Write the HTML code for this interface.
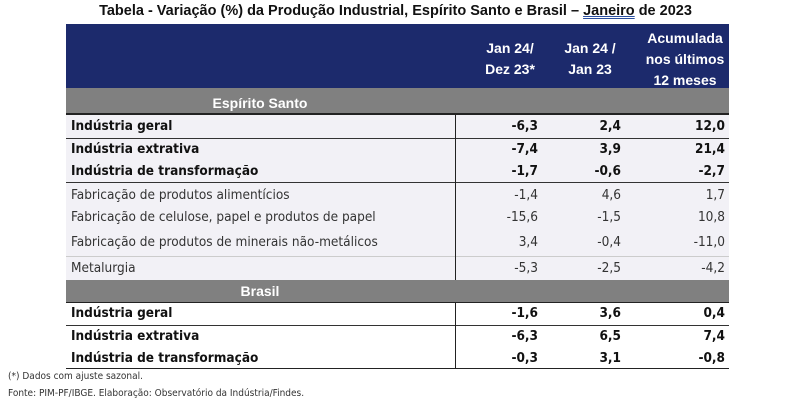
<!DOCTYPE html>
<html><head><meta charset="utf-8"><style>
body{margin:0;width:791px;height:404px;background:#fff;position:relative;overflow:hidden;font-family:"Liberation Sans Narrow","Liberation Sans",sans-serif;color:#111}
div{position:absolute;white-space:nowrap}
.t{top:3px;left:0;width:791px;text-align:center;font-weight:bold;font-size:14.5px}
.b{font-weight:bold;font-family:"DejaVu Sans Condensed","Liberation Sans Narrow",sans-serif;font-size:13.5px}
.n{font-family:"DejaVu Sans Condensed","Liberation Sans Narrow",sans-serif;font-size:13.5px;color:#333}
.v{text-align:right;width:60px}
.h{color:#fff;font-weight:bold;font-size:14px;text-align:center;line-height:21px}
</style></head><body>
<div class="t">Tabela - Variação (%) da Produção Industrial, Espírito Santo e Brasil – <span style="text-decoration:underline double #2a4fa0">Janeiro</span> de 2023</div>
<div style="left:66px;top:24px;width:663px;height:64px;background:#1c2a6c"></div>
<div class="h" style="left:470px;top:38px;width:80px">Jan 24/<br>Dez 23*</div>
<div class="h" style="left:550px;top:38px;width:80px">Jan 24 /<br>Jan 23</div>
<div class="h" style="left:640px;top:28px;width:90px">Acumulada<br>nos últimos<br>12 meses</div>
<div style="left:66px;top:88px;width:663px;height:25px;background:#808080"></div>
<div class="h" style="left:190px;top:93px;width:140px">Espírito Santo</div>
<div style="left:66px;top:113px;width:663px;height:167px;background:#f2f1f6"></div>
<div style="left:66px;top:113px;width:663px;height:2px;background:#222"></div>
<div style="left:66px;top:138px;width:663px;height:1px;background:#333"></div>
<div style="left:66px;top:182px;width:663px;height:1px;background:#333"></div>
<div style="left:66px;top:256px;width:663px;height:1px;background:#ccc"></div>
<div style="left:66px;top:280px;width:663px;height:22px;background:#808080"></div>
<div class="h" style="left:190px;top:281px;width:140px">Brasil</div>
<div style="left:66px;top:302px;width:663px;height:1px;background:#222"></div>
<div style="left:66px;top:325px;width:663px;height:1px;background:#333"></div>
<div style="left:66px;top:368px;width:663px;height:1px;background:#222"></div>
<div style="left:455px;top:113px;width:1px;height:167px;background:#222"></div>
<div style="left:455px;top:302px;width:1px;height:67px;background:#222"></div>

<div class="b" style="left:71px;top:118px">Indústria geral</div>
<div class="b" style="left:71px;top:141px">Indústria extrativa</div>
<div class="b" style="left:71px;top:163px">Indústria de transformação</div>
<div class="n" style="left:71px;top:187px">Fabricação de produtos alimentícios</div>
<div class="n" style="left:71px;top:209px">Fabricação de celulose, papel e produtos de papel</div>
<div class="n" style="left:71px;top:234px">Fabricação de produtos de minerais não-metálicos</div>
<div class="n" style="left:71px;top:260px">Metalurgia</div>
<div class="b" style="left:71px;top:305px">Indústria geral</div>
<div class="b" style="left:71px;top:328px">Indústria extrativa</div>
<div class="b" style="left:71px;top:350px">Indústria de transformação</div>

<div class="b v" style="left:478px;top:118px">-6,3</div><div class="b v" style="left:561px;top:118px">2,4</div><div class="b v" style="left:665px;top:118px">12,0</div>
<div class="b v" style="left:478px;top:141px">-7,4</div><div class="b v" style="left:561px;top:141px">3,9</div><div class="b v" style="left:665px;top:141px">21,4</div>
<div class="b v" style="left:478px;top:163px">-1,7</div><div class="b v" style="left:561px;top:163px">-0,6</div><div class="b v" style="left:665px;top:163px">-2,7</div>
<div class="n v" style="left:478px;top:187px">-1,4</div><div class="n v" style="left:561px;top:187px">4,6</div><div class="n v" style="left:665px;top:187px">1,7</div>
<div class="n v" style="left:478px;top:209px">-15,6</div><div class="n v" style="left:561px;top:209px">-1,5</div><div class="n v" style="left:665px;top:209px">10,8</div>
<div class="n v" style="left:478px;top:234px">3,4</div><div class="n v" style="left:561px;top:234px">-0,4</div><div class="n v" style="left:665px;top:234px">-11,0</div>
<div class="n v" style="left:478px;top:260px">-5,3</div><div class="n v" style="left:561px;top:260px">-2,5</div><div class="n v" style="left:665px;top:260px">-4,2</div>
<div class="b v" style="left:478px;top:305px">-1,6</div><div class="b v" style="left:561px;top:305px">3,6</div><div class="b v" style="left:665px;top:305px">0,4</div>
<div class="b v" style="left:478px;top:328px">-6,3</div><div class="b v" style="left:561px;top:328px">6,5</div><div class="b v" style="left:665px;top:328px">7,4</div>
<div class="b v" style="left:478px;top:350px">-0,3</div><div class="b v" style="left:561px;top:350px">3,1</div><div class="b v" style="left:665px;top:350px">-0,8</div>

<div class="n" style="left:8px;top:371px;font-size:10px">(*) Dados com ajuste sazonal.</div>
<div class="n" style="left:8px;top:388px;font-size:10px">Fonte: PIM-PF/IBGE. Elaboração: Observatório da Indústria/Findes.</div>
</body></html>
